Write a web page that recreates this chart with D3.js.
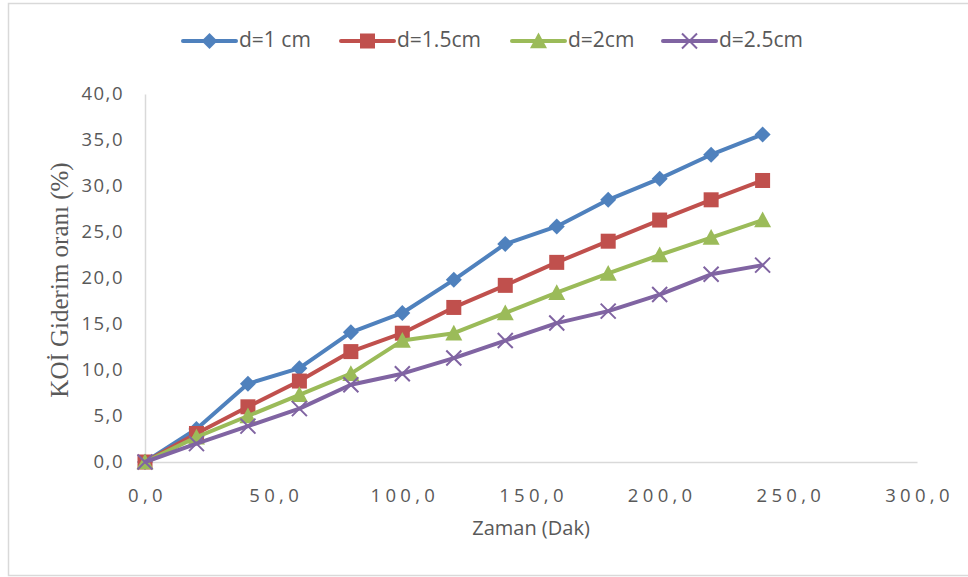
<!DOCTYPE html>
<html>
<head>
<meta charset="utf-8">
<script src="https://cdn.jsdelivr.net/npm/d3@7"></script>
<style>
  body { margin: 0; background: #fff; }
  text { fill: #595959; }
</style>
</head>
<body>
<div id="graph"></div>
<script>
// time (min)
const times = [0, 20, 40, 60, 80, 100, 120, 140, 160, 180, 200, 220, 240]
// KOİ removal (%) per electrode distance
const d1 = [0, 3.6, 8.5, 10.2, 14.1, 16.2, 19.8, 23.7, 25.6, 28.5, 30.8, 33.4, 35.6]
const d15 = [0, 3.1, 6.0, 8.8, 12.0, 14.0, 16.8, 19.2, 21.7, 24.0, 26.3, 28.5, 30.6]
const d2 = [0, 2.7, 5.0, 7.3, 9.6, 13.2, 14.0, 16.2, 18.4, 20.5, 22.5, 24.4, 26.3]
const d25 = [0, 2.0, 3.9, 5.8, 8.4, 9.6, 11.3, 13.2, 15.1, 16.4, 18.2, 20.4, 21.4]
const seriesNames = ["d=1 cm", "d=1.5cm", "d=2cm", "d=2.5cm"]
const xTicks = [0, 50, 100, 150, 200, 250, 300]
const yTicks = [0, 5, 10, 15, 20, 25, 30, 35, 40]

const colors = ["#4F81BD", "#C0504D", "#9BBB59", "#8064A2"]
const shapes = ["diamond", "square", "triangle", "cross"]

const W = 968, H = 577
const svg = d3.select("#graph").append("svg")
  .attr("width", W)
  .attr("height", H)

// chart border
svg.append("rect")
  .attr("x", 8.5).attr("y", 3.5)
  .attr("width", 980).attr("height", 572)
  .attr("fill", "none")
  .attr("stroke", "#d9d9d9")
  .attr("stroke-width", 1.5)

const x = d3.scaleLinear().domain([0, 300]).range([145, 917])
const y = d3.scaleLinear().domain([0, 40]).range([462, 94])
const fmt = v => v.toFixed(1).replace(".", ",")

// axes
const xAxis = svg.append("g")
  .attr("transform", "translate(0," + y(0) + ")")
  .call(d3.axisBottom(x).tickValues(xTicks).tickSize(0).tickFormat(fmt))
xAxis.select(".domain").attr("stroke", "#d9d9d9").attr("stroke-width", 1.5)
xAxis.selectAll("text")
  .attr("x", 2)
  .attr("y", 34)
  .attr("dy", "0.35em")
  .style("font-family", "'Open Sans', sans-serif")
  .style("font-size", "18.5px")
  .style("letter-spacing", "4.3px")
  .attr("fill", "#595959")

const yAxis = svg.append("g")
  .attr("transform", "translate(" + x(0) + ",0)")
  .call(d3.axisLeft(y).tickValues(yTicks).tickSize(0).tickFormat(fmt))
yAxis.select(".domain").attr("stroke", "#d9d9d9").attr("stroke-width", 1.5)
yAxis.selectAll("text")
  .attr("x", -21)
  .style("font-family", "'Open Sans', sans-serif")
  .style("font-size", "18.5px")
  .style("letter-spacing", "1.5px")
  .attr("fill", "#595959")

// axis titles
svg.append("text")
  .attr("x", 531).attr("y", 530)
  .attr("text-anchor", "middle")
  .attr("dominant-baseline", "middle")
  .style("font-family", "'Open Sans', sans-serif")
  .style("font-size", "20px")
  .text("Zaman (Dak)")

svg.append("text")
  .attr("transform", "translate(62,280) rotate(-90)")
  .attr("text-anchor", "middle")
  .attr("dominant-baseline", "middle")
  .style("font-family", "'Liberation Serif', serif")
  .style("font-size", "25px")
  .text("KOİ Giderim oranı (%)")

// marker drawing
function marker(g, shape, color, cx, cy) {
  if (shape === "diamond") {
    const s = 8
    g.append("path")
      .attr("d", `M${cx},${cy - s}L${cx + s},${cy}L${cx},${cy + s}L${cx - s},${cy}Z`)
      .attr("fill", color)
  } else if (shape === "square") {
    g.append("rect")
      .attr("x", cx - 7.5).attr("y", cy - 7.5)
      .attr("width", 15).attr("height", 15)
      .attr("fill", color)
  } else if (shape === "triangle") {
    const s = 8.5
    g.append("path")
      .attr("d", `M${cx},${cy - s}L${cx + s},${cy + s * 0.85}L${cx - s},${cy + s * 0.85}Z`)
      .attr("fill", color)
  } else {
    const s = 7.5
    g.append("path")
      .attr("d", `M${cx - s},${cy - s}L${cx + s},${cy + s}M${cx - s},${cy + s}L${cx + s},${cy - s}`)
      .attr("stroke", color)
      .attr("stroke-width", 2)
  }
}

// series
const allSeries = [d1, d15, d2, d25]
const line = d3.line()
  .x((d, i) => x(times[i]))
  .y(d => y(d))

allSeries.forEach((vals, k) => {
  const g = svg.append("g")
  g.append("path")
    .datum(vals)
    .attr("d", line)
    .attr("fill", "none")
    .attr("stroke", colors[k])
    .attr("stroke-width", 4)
    .attr("stroke-linejoin", "round")
  vals.forEach((v, i) => marker(g, shapes[k], colors[k], x(times[i]), y(v)))
})

// legend
const legendX = [183, 341, 512, 663]
const legend = svg.append("g")
seriesNames.forEach((name, k) => {
  const lx = legendX[k]
  legend.append("line")
    .attr("x1", lx).attr("x2", lx + 53)
    .attr("y1", 41).attr("y2", 41)
    .attr("stroke", colors[k])
    .attr("stroke-width", 4)
    .attr("stroke-linecap", "round")
  marker(legend, shapes[k], colors[k], lx + 26.5, 41)
  legend.append("text")
    .attr("x", lx + 56).attr("y", 41)
    .attr("dominant-baseline", "middle")
    .style("font-family", "'Open Sans', sans-serif")
    .style("font-size", "21px")
    .text(name)
})
</script>
</body>
</html>
